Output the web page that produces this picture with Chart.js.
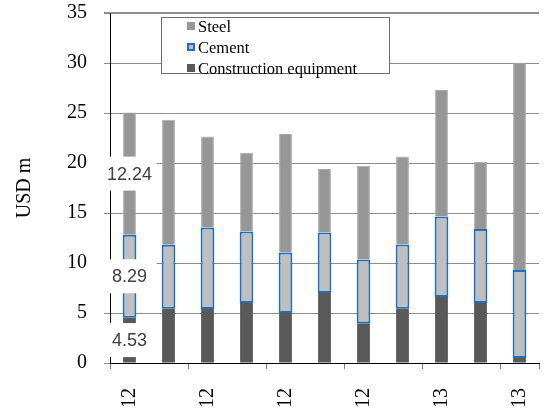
<!DOCTYPE html>
<html lang="en">
<head>
    <meta charset="UTF-8">
    <title>USD m stacked bars</title>
    <script src="https://cdn.jsdelivr.net/npm/chart.js"></script>
    <style>
        body { margin: 0; background: #fff; }
        #wrap { position: relative; width: 546px; height: 415px; overflow: hidden; }
        #legend { position: absolute; left: 161px; top: 17px; width: 227px; height: 55px;
                  border: 1px solid #6e6e6e; background: #fff; font-family: "Liberation Serif", serif;
                  font-size: 16.5px; color: #000; }
        .row { position: absolute; left: 0; height: 21px; line-height: 21px; display: flex; align-items: center; white-space: nowrap; }
        .mk { width: 8px; height: 8px; margin-left: 25px; margin-right: 3px; box-sizing: border-box; }
    </style>
</head>
<body>
    <div id="wrap">
        <canvas id="chart"></canvas>
        <div id="legend"></div>
    </div>
    <script>
        // tick labels along the bottom (only every other category is labelled)
        const tickLabels = ['12', '', '12', '', '12', '', '12', '', '13', '', '13'];

        // series values, bottom to top of each stack
        const construction = [4.53, 5.43, 5.40, 6.00, 5.00, 7.00, 3.96, 5.43, 6.60, 6.00, 0.50];
        const cement       = [8.29, 6.40, 8.16, 7.16, 6.06, 6.06, 6.40, 6.43, 8.06, 7.40, 8.80];
        const steel        = [12.24, 12.50, 9.10, 7.87, 11.84, 6.34, 9.37, 8.80, 12.64, 6.73, 20.73];

        const yTicks = [0, 5, 10, 15, 20, 25, 30, 35];
        const labelledBar = 0;   // only the first stack carries value labels

        const datasets = [
            { label: 'Construction equipment', data: construction, backgroundColor: '#595959',
              borderWidth: 0, barPercentage: 0.41 },
            { label: 'Cement', data: cement, backgroundColor: '#bfbfbf', borderColor: '#1f6fc0',
              borderWidth: 2, borderSkipped: false, barPercentage: 0.44 },
            { label: 'Steel', data: steel, backgroundColor: '#969696', borderColor: '#a8a8a8',
              borderWidth: 1, borderSkipped: 'start', barPercentage: 0.41 }
        ];

        // legend box, top entry first
        const legend = document.getElementById('legend');
        datasets.slice().reverse().forEach((ds, i) => {
            const row = document.createElement('div');
            row.className = 'row';
            row.style.top = (-2.5 + 21 * i) + 'px';
            const mk = document.createElement('span');
            mk.className = 'mk';
            mk.style.background = ds.backgroundColor;
            if (ds.label === 'Cement') mk.style.border = '2px solid ' + ds.borderColor;
            row.appendChild(mk);
            row.appendChild(document.createTextNode(ds.label));
            legend.appendChild(row);
        });

        // white boxed value labels in the middle of each segment of the first bar
        const valueLabels = {
            id: 'valueLabels',
            afterDatasetsDraw(chart) {
                const ctx = chart.ctx;
                ctx.save();
                chart.data.datasets.forEach((ds, i) => {
                    const bar = chart.getDatasetMeta(i).data[labelledBar];
                    const p = bar.getProps(['x', 'y', 'base'], true);
                    const cy = (p.y + p.base) / 2;
                    ctx.fillStyle = '#fff';
                    ctx.fillRect(p.x - 27, cy - 17, 54, 34);
                    ctx.fillStyle = '#404040';
                    ctx.font = '18px "Liberation Sans", Arial, sans-serif';
                    ctx.textAlign = 'center';
                    ctx.textBaseline = 'middle';
                    ctx.fillText(ds.data[labelledBar].toFixed(2), p.x, cy + 1);
                });
                ctx.restore();
            }
        };

        const serif = { family: '"Liberation Serif", "Times New Roman", serif', size: 20 };

        new Chart(document.getElementById('chart').getContext('2d'), {
            type: 'bar',
            data: { labels: tickLabels, datasets: datasets },
            plugins: [valueLabels],
            options: {
                responsive: true,
                maintainAspectRatio: false,
                animation: false,
                devicePixelRatio: 1,
                layout: { padding: { left: 0, top: 13, right: 7, bottom: 0 } },
                plugins: { legend: { display: false }, tooltip: { enabled: false } },
                scales: {
                    x: {
                        stacked: true,
                        categoryPercentage: 1,
                        afterFit: s => { s.height = 52; s.paddingLeft = 0; s.paddingRight = 0; },
                        border: { color: '#000', width: 1 },
                        grid: {
                            offset: true,
                            drawOnChartArea: false,
                            tickLength: 6,
                            color: c => (c.index % 2 ? 'rgba(0,0,0,0)' : '#808080')
                        },
                        ticks: {
                            autoSkip: false,
                            minRotation: 90,
                            maxRotation: 90,
                            padding: 19,
                            color: '#000',
                            font: serif
                        }
                    },
                    y: {
                        stacked: true,
                        min: 0,
                        max: 35,
                        afterFit: s => { s.width = 110; s.paddingTop = 0; s.paddingBottom = 0; },
                        afterBuildTicks: s => { s.ticks = yTicks.map(v => ({ value: v })); },
                        border: { color: '#000', width: 1 },
                        grid: {
                            color: '#8c8c8c',
                            lineWidth: c => (c.tick && c.tick.value === 35 ? 2 : 1),
                            tickLength: 6
                        },
                        ticks: { padding: 17, color: '#000', font: serif },
                        title: {
                            display: true,
                            text: 'USD m',
                            color: '#000',
                            font: serif,
                            padding: { top: 13, bottom: 0 }
                        }
                    }
                }
            }
        });
    </script>
</body>
</html>
